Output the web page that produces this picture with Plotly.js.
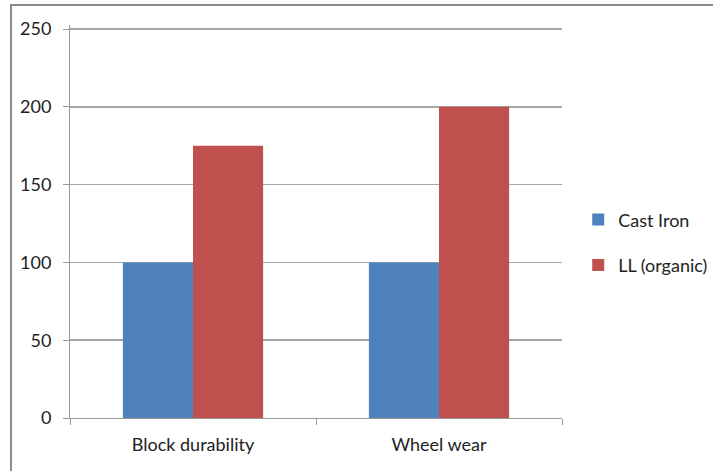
<!DOCTYPE html>
<html><head><meta charset="utf-8">
<script src="https://cdn.plot.ly/plotly-3.0.1.min.js"></script>
<style>
html,body{margin:0;padding:0;background:#fff;}
#frame{position:absolute;left:10px;top:4px;width:703px;height:467px;border-top:2px solid #8c8c8c;border-left:2px solid #8c8c8c;box-sizing:border-box;pointer-events:none;z-index:5;}
#chart{width:713px;height:471px;}
</style></head>
<body>
<div id="frame"></div>
<div id="chart"></div>
<script>
var categories = ["Block durability", "Wheel wear"];
var castIron = [100, 100];
var llOrganic = [175, 200];
var seriesNames = ["Cast Iron", "LL (organic)"];
var yTicks = [0, 50, 100, 150, 200, 250];

var font = "Lato, 'Open Sans', sans-serif";
var data = [
  {type:"bar", x:categories, y:castIron, name:seriesNames[0], legendgroup:"a", marker:{color:"#4f81bd"}},
  {type:"bar", x:categories, y:llOrganic, name:seriesNames[1], legendgroup:"b", marker:{color:"#c0504d"}}
];
var layout = {
  width:713, height:471,
  margin:{l:70, r:151, t:25, b:53, autoexpand:false},
  paper_bgcolor:"#fff", plot_bgcolor:"#fff",
  barmode:"group", bargap:0.43, bargroupgap:0,
  font:{family:font, size:18, color:"#222"},
  xaxis:{showline:true, linecolor:"#999", linewidth:1, ticks:"outside", tickson:"boundaries",
         ticklen:6, tickcolor:"#999", showgrid:false, tickfont:{size:18}, zeroline:false,
         ticklabelstandoff:10},
  yaxis:{range:[0,252.6], tickvals:yTicks, showgrid:true, gridcolor:"#a6a6a6", gridwidth:1.5,
         showline:true, linecolor:"#999", ticks:"outside", ticklen:6, tickcolor:"#999",
         zeroline:false, tickfont:{size:18}, ticklabelstandoff:8},
  legend:{x:1.033, y:0.447, yanchor:"middle", xanchor:"left", tracegroupgap:19,
          font:{size:18}, itemwidth:30, traceorder:"grouped"},
  showlegend:true
};
Plotly.newPlot("chart", data, layout, {displayModeBar:false, staticPlot:true});
</script>
</body></html>
